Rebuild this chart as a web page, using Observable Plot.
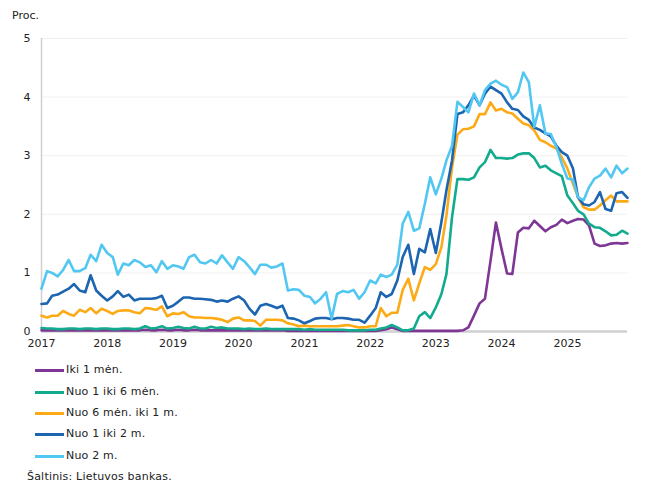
<!DOCTYPE html>
<html><head><meta charset="utf-8">
<script src="https://cdn.jsdelivr.net/npm/d3@7"></script>
<script src="https://cdn.jsdelivr.net/npm/@observablehq/plot@0.6"></script>
<style>
body{margin:0;background:#fff;font-family:"DejaVu Sans",Verdana,sans-serif;color:#222;}
#wrap{position:relative;width:650px;height:500px;overflow:hidden;}
#unit{position:absolute;left:12px;top:9px;font-size:11px;}
#chart{position:absolute;left:0;top:0;}
.leg{position:absolute;left:35px;font-size:11px;height:14px;line-height:14px;}
.leg span.sw{position:absolute;left:0;top:6px;width:29px;height:3px;}
.leg span.tx{position:absolute;left:31px;top:0;white-space:nowrap;letter-spacing:0.2px;}
#src{position:absolute;left:27px;top:470px;font-size:11px;white-space:nowrap;letter-spacing:0.2px;}
</style></head><body><div id="wrap"><div id="chart"></div><div id="unit">Proc.</div></div>
<script>
const seriesNames = ["Iki 1 mėn.", "Nuo 1 iki 6 mėn.", "Nuo 6 mėn. iki 1 m.", "Nuo 1 iki 2 m.", "Nuo 2 m."];
const seriesColors = ["#7e3794", "#13ab8d", "#fcaa16", "#1d65b0", "#52c7f2"];
const yTicks = [0, 1, 2, 3, 4, 5];
const yearLabels = [2017, 2018, 2019, 2020, 2021, 2022, 2023, 2024, 2025];
const sourceText = "Šaltinis: Lietuvos bankas.";
const unitText = "Proc.";

// monthly values, Jan 2017 – Dec 2025
const iki1men = [
0.02,0.02,0.02,0.02,0.02,0.02,0.02,0.02,0.02,0.02,0.02,0.02,
0.02,0.02,0.02,0.02,0.02,0.02,0.02,0.03,0.02,0.02,0.03,0.02,
0.02,0.03,0.02,0.02,0.03,0.02,0.02,0.02,0.02,0.02,0.02,0.02,
0.02,0.02,0.02,0.02,0.02,0.02,0.02,0.02,0.02,0.01,0.01,0.01,
0.01,0.01,0.01,0.01,0.01,0.01,0.01,0.01,0.01,0.01,0.01,0.01,
0.01,0.01,0.02,0.04,0.07,0.04,0.01,0.01,0.01,0.01,0.01,0.01,
0.01,0.01,0.01,0.01,0.01,0.02,0.07,0.27,0.48,0.56,1.21,1.86,
1.41,0.99,0.98,1.69,1.77,1.76,1.89,1.80,1.71,1.78,1.82,1.91,
1.85,1.89,1.92,1.91,1.81,1.50,1.46,1.47,1.50,1.51,1.50,1.51];
const nuo1iki6men = [
0.06,0.05,0.05,0.04,0.04,0.05,0.05,0.04,0.05,0.05,0.04,0.05,
0.05,0.04,0.04,0.05,0.05,0.04,0.05,0.09,0.05,0.06,0.09,0.05,
0.06,0.08,0.06,0.05,0.08,0.05,0.05,0.08,0.06,0.07,0.05,0.05,
0.05,0.04,0.05,0.04,0.04,0.05,0.04,0.04,0.04,0.04,0.04,0.04,
0.03,0.04,0.03,0.03,0.03,0.03,0.03,0.03,0.02,0.02,0.02,0.02,
0.03,0.03,0.05,0.07,0.11,0.07,0.02,0.02,0.05,0.26,0.33,0.23,
0.41,0.64,0.98,1.95,2.60,2.60,2.59,2.63,2.80,2.89,3.10,2.96,
2.96,2.95,2.96,3.02,3.04,3.04,2.96,2.80,2.83,2.75,2.70,2.65,
2.32,2.19,2.06,2.00,1.84,1.78,1.77,1.71,1.64,1.65,1.72,1.67];
const nuo6meniki1m = [
0.27,0.24,0.27,0.27,0.35,0.30,0.27,0.37,0.33,0.40,0.31,0.39,
0.35,0.30,0.35,0.36,0.36,0.33,0.31,0.40,0.39,0.37,0.43,0.26,
0.31,0.30,0.33,0.26,0.24,0.24,0.23,0.23,0.22,0.20,0.16,0.22,
0.24,0.19,0.19,0.18,0.10,0.20,0.20,0.20,0.19,0.14,0.12,0.09,
0.10,0.09,0.09,0.09,0.09,0.09,0.09,0.10,0.11,0.09,0.07,0.07,
0.09,0.09,0.40,0.26,0.32,0.32,0.71,0.90,0.53,0.82,1.10,1.05,
1.15,1.44,1.98,2.80,3.36,3.45,3.46,3.50,3.71,3.71,3.91,3.77,
3.80,3.74,3.72,3.63,3.55,3.52,3.43,3.27,3.23,3.17,3.12,2.97,
2.78,2.52,2.29,2.12,2.08,2.08,2.15,2.24,2.32,2.22,2.22,2.22];
const nuo1iki2m = [
0.47,0.48,0.61,0.63,0.68,0.73,0.81,0.70,0.67,0.96,0.70,0.61,
0.53,0.60,0.69,0.59,0.63,0.53,0.56,0.56,0.56,0.57,0.61,0.40,
0.44,0.51,0.58,0.58,0.56,0.56,0.55,0.54,0.51,0.53,0.51,0.56,
0.60,0.53,0.39,0.29,0.44,0.47,0.44,0.40,0.44,0.23,0.22,0.19,
0.14,0.18,0.22,0.23,0.23,0.21,0.23,0.23,0.22,0.20,0.20,0.15,
0.27,0.40,0.67,0.59,0.64,0.87,1.27,1.48,0.98,1.41,1.35,1.75,
1.34,1.87,2.41,2.92,3.71,3.74,3.86,4.03,3.86,4.06,4.18,4.12,
4.06,3.91,3.80,3.78,3.67,3.61,3.48,3.44,3.38,3.33,3.17,3.06,
3.00,2.78,2.29,2.17,2.15,2.21,2.38,2.09,2.06,2.36,2.38,2.28];
const nuo2m = [
0.73,1.03,1.00,0.94,1.05,1.22,1.03,1.03,1.08,1.31,1.20,1.48,
1.34,1.27,0.97,1.16,1.13,1.22,1.18,1.10,1.13,1.01,1.20,1.07,
1.13,1.11,1.07,1.27,1.31,1.18,1.16,1.22,1.16,1.30,1.18,1.07,
1.27,1.20,1.10,0.98,1.14,1.14,1.09,1.11,1.16,0.70,0.72,0.71,
0.61,0.59,0.48,0.56,0.67,0.22,0.64,0.69,0.67,0.71,0.56,0.67,
0.87,0.82,0.97,0.93,0.97,1.14,1.84,2.04,1.72,1.76,2.18,2.63,
2.34,2.61,2.92,3.17,3.92,3.83,3.74,4.06,3.86,4.12,4.23,4.28,
4.21,4.17,3.97,4.08,4.42,4.25,3.49,3.86,3.38,3.37,3.15,2.86,
2.61,2.59,2.29,2.24,2.46,2.61,2.66,2.78,2.63,2.83,2.70,2.78];

const seriesValues = [iki1men, nuo1iki6men, nuo6meniki1m, nuo1iki2m, nuo2m];
const months = d3.utcMonth.range(new Date(Date.UTC(2017, 0, 1)), new Date(Date.UTC(2026, 0, 1)));
const rows = [];
seriesValues.forEach((vals, si) => {
  vals.forEach((v, i) => rows.push({date: months[i], value: v, series: seriesNames[si]}));
});
const yearDates = yearLabels.map(y => new Date(Date.UTC(y, 0, 1)));

const plot = Plot.plot({
  width: 650, height: 360,
  marginTop: 38, marginLeft: 41, marginRight: 23, marginBottom: 29,
  style: {fontFamily: "'DejaVu Sans', Verdana, sans-serif", fontSize: "11px", color: "#222", background: "transparent"},
  x: {type: "utc", domain: [months[0], months[months.length - 1]], ticks: yearDates, tickFormat: d => String(d.getUTCFullYear()), tickSize: 0, tickPadding: 8, label: null},
  y: {domain: [0, 5], ticks: yTicks, tickFormat: d => String(d), tickSize: 0, tickPadding: 11, label: null},
  color: {domain: seriesNames, range: seriesColors},
  marks: [
    Plot.gridY(yTicks.slice(1), {stroke: "#000", strokeOpacity: 0.06}),
    Plot.ruleX([months[0]], {stroke: "#d0d0d0", strokeWidth: 1.5}),
    Plot.ruleY([0], {stroke: "#d0d0d0", strokeWidth: 2.5}),
    Plot.lineY(rows, {x: "date", y: "value", z: "series", stroke: "series", strokeWidth: 2.6, strokeLinejoin: "round"})
  ]
});
document.getElementById("chart").appendChild(plot);

const wrap = document.getElementById("wrap");
const legendTops = [363, 385, 406, 427, 449];
seriesNames.forEach((name, i) => {
  const d = document.createElement("div");
  d.className = "leg";
  d.style.top = legendTops[i] + "px";
  d.innerHTML = `<span class="sw" style="background:${seriesColors[i]}"></span><span class="tx"></span>`;
  d.querySelector(".tx").textContent = name;
  wrap.appendChild(d);
});
const s = document.createElement("div");
s.id = "src";
s.textContent = sourceText;
wrap.appendChild(s);
</script>
</body></html>
